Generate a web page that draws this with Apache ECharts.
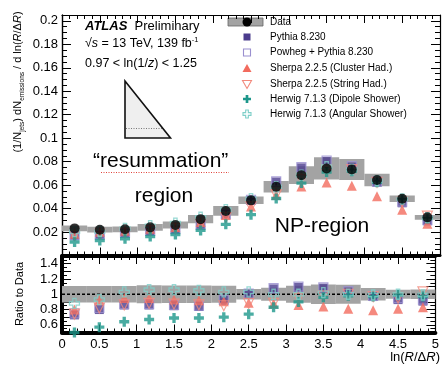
<!DOCTYPE html>
<html>
<head>
<meta charset="utf-8">
<script src="https://cdn.jsdelivr.net/npm/echarts@6.0.0/dist/echarts.min.js"></script>
<style>
html,body{margin:0;padding:0;background:#fff}
#chart{width:442px;height:365px}
</style>
</head>
<body>
<div id="chart"></div>
<script>
var binEdges = [0, 0.3333, 0.6667, 1, 1.3333, 1.6667, 2, 2.3333, 2.6667, 3, 3.3333, 3.6667, 4, 4.3333, 4.6667, 5];

// top panel: (1/Njets) dN/dln(R/dR)
var dataVals = [0.0231, 0.0220, 0.0223, 0.0240, 0.0260, 0.0310, 0.0380, 0.0470, 0.0586, 0.0685, 0.0742, 0.0733, 0.0643, 0.0483, 0.0325];
var dataErr  = [0.0025, 0.0024, 0.0024, 0.0028, 0.0030, 0.0035, 0.0042, 0.0032, 0.0050, 0.0075, 0.0095, 0.0090, 0.0053, 0.0028, 0.0020];
var pythia        = [0.0169, 0.0176, 0.0192, 0.0206, 0.0221, 0.0260, 0.0350, 0.0470, 0.0627, 0.0747, 0.0801, 0.0755, 0.0624, 0.0449, 0.0296];
var powheg        = [0.0173, 0.0180, 0.0194, 0.0209, 0.0224, 0.0264, 0.0353, 0.0475, 0.0633, 0.0754, 0.0809, 0.0762, 0.0630, 0.0459, 0.0302];
var sherpaCluster = [0.0185, 0.0202, 0.0212, 0.0228, 0.0242, 0.0285, 0.0346, 0.0418, 0.0516, 0.0589, 0.0623, 0.0594, 0.0505, 0.0391, 0.0270];
var sherpaString  = [0.0171, 0.0180, 0.0192, 0.0211, 0.0226, 0.0267, 0.0323, 0.0414, 0.0516, 0.0651, 0.0727, 0.0733, 0.0624, 0.0459, 0.0335];
var herwigDipole  = [0.0115, 0.0128, 0.0143, 0.0161, 0.0179, 0.0214, 0.0266, 0.0348, 0.0486, 0.0617, 0.0712, 0.0718, 0.0624, 0.0478, 0.0315];
var herwigAngular = [0.0203, 0.0205, 0.0230, 0.0254, 0.0276, 0.0326, 0.0391, 0.0484, 0.0586, 0.0685, 0.0757, 0.0733, 0.0637, 0.0483, 0.0322];

// bottom panel: ratio to data
var pythiaRatio        = [0.73, 0.80, 0.86, 0.86, 0.85, 0.84, 0.92, 1.00, 1.07, 1.09, 1.08, 1.03, 0.97, 0.93, 0.91];
var powhegRatio        = [0.75, 0.82, 0.87, 0.87, 0.86, 0.85, 0.93, 1.01, 1.08, 1.10, 1.09, 1.04, 0.98, 0.95, 0.93];
var sherpaClusterRatio = [0.80, 0.92, 0.95, 0.95, 0.93, 0.92, 0.91, 0.89, 0.88, 0.86, 0.84, 0.81, 0.79, 0.81, 0.83];
var sherpaStringRatio  = [0.74, 0.82, 0.86, 0.88, 0.87, 0.86, 0.85, 0.88, 0.88, 0.95, 0.98, 1.00, 0.97, 0.95, 1.03];
var herwigDipoleRatio  = [0.50, 0.57, 0.64, 0.67, 0.69, 0.69, 0.70, 0.74, 0.83, 0.90, 0.96, 0.98, 0.97, 0.99, 0.97];
var herwigAngularRatio = [0.88, 0.93, 1.03, 1.06, 1.06, 1.05, 1.03, 1.03, 1.00, 1.00, 1.02, 1.00, 0.99, 1.00, 0.99];

var legendNames = ['Data', 'Pythia 8.230', 'Powheg + Pythia 8.230', 'Sherpa 2.2.5 (Cluster Had.)',
                   'Sherpa 2.2.5 (String Had.)', 'Herwig 7.1.3 (Dipole Shower)', 'Herwig 7.1.3 (Angular Shower)'];

var FONT = 'Liberation Sans, Arial, Helvetica, sans-serif';
var BAND = '#a3a3a3';
var PLUS = 'path://M3,0L6,0L6,3L9,3L9,6L6,6L6,9L3,9L3,6L0,6L0,3L3,3Z';

var styles = {
  pythia:   {symbol: 'rect', size: 9, item: {color: '#4b3c8d'}},
  powheg:   {symbol: 'rect', size: 9, item: {color: 'rgba(0,0,0,0)', borderColor: '#9a8fcf', borderWidth: 1.2}},
  sCluster: {symbol: 'triangle', size: 10, item: {color: '#f26b5e'}},
  sString:  {symbol: 'triangle', size: 10, rotate: 180, item: {color: 'rgba(0,0,0,0)', borderColor: '#f2897c', borderWidth: 1.2}},
  hDipole:  {symbol: PLUS, size: 10, item: {color: '#1d978b'}},
  hAngular: {symbol: PLUS, size: 10, item: {color: 'rgba(0,0,0,0)', borderColor: '#7fcfc9', borderWidth: 1.3}}
};

function center(i) { return (binEdges[i] + binEdges[i + 1]) / 2; }

function pts(vals) {
  return vals.map(function (v, i) { return [center(i), v]; });
}

function scatter(name, vals, axis, st) {
  return {
    name: name, type: 'scatter', xAxisIndex: axis, yAxisIndex: axis,
    data: pts(vals), symbol: st.symbol, symbolSize: st.size, symbolRotate: st.rotate || 0,
    itemStyle: st.item, z: 3, silent: true
  };
}

// band boxes, one per bin
function bandSeries(axis, loFn, hiFn) {
  return {
    type: 'custom', xAxisIndex: axis, yAxisIndex: axis, z: 1, silent: true, clip: true,
    data: pts(dataVals),
    renderItem: function (params, api) {
      var i = params.dataIndex;
      var p0 = api.coord([binEdges[i], hiFn(i)]);
      var p1 = api.coord([binEdges[i + 1], loFn(i)]);
      return {type: 'rect', shape: {x: p0[0], y: p0[1], width: p1[0] - p0[0], height: p1[1] - p0[1]},
              style: {fill: BAND}};
    }
  };
}

function xAx(grid, pos, lineW, labels) {
  return {
    type: 'value', gridIndex: grid, position: pos, min: 0, max: 5, interval: 0.5,
    axisLine: {onZero: false, lineStyle: {color: '#000', width: lineW}},
    axisTick: {inside: true, length: 8, lineStyle: {color: '#000', width: 1}},
    minorTick: {show: true, splitNumber: 5, length: 4, lineStyle: {color: '#000', width: 1}},
    axisLabel: labels ? {show: true, color: '#000', fontFamily: FONT, fontSize: 13, margin: 5,
                         formatter: function (v) { return String(Math.round(v * 10) / 10); }} : {show: false},
    splitLine: {show: false}
  };
}

function yAx(grid, pos, lineW, min, max, interval, minorSplit, labelFn) {
  return {
    type: 'value', gridIndex: grid, position: pos, min: min, max: max, interval: interval,
    axisLine: {show: true, onZero: false, lineStyle: {color: '#000', width: lineW}},
    axisTick: {inside: true, length: 9, lineStyle: {color: '#000', width: 1}},
    minorTick: {show: true, splitNumber: minorSplit, length: 5, lineStyle: {color: '#000', width: 1}},
    axisLabel: labelFn ? {show: true, color: '#000', fontFamily: FONT, fontSize: 13, margin: 4,
                          showMaxLabel: false, formatter: labelFn} : {show: false},
    splitLine: {show: false}
  };
}

var topLabel = function (v) {
  var k = Math.round(v * 100);
  if (k <= 0 || k % 2 !== 0 || Math.abs(v * 100 - k) > 1e-6) return '';
  return String(k / 100);
};
var ratioLabel = function (v) {
  var k = Math.round(v * 10);
  return (k % 2 === 0 && k >= 6 && k <= 14) ? String(k / 10) : '';
};

// legend drawn as graphics
function legendMarker(i, y) {
  var cx = 247;
  if (i === 0) {
    return [{type: 'rect', shape: {x: 228, y: y - 4, width: 35, height: 8}, style: {fill: BAND, stroke: '#666', lineWidth: 0.8}},
            {type: 'circle', shape: {cx: cx, cy: y, r: 4.5}, style: {fill: '#000'}}];
  }
  if (i === 1) return [{type: 'rect', shape: {x: cx - 3.5, y: y - 3.5, width: 7, height: 7}, style: {fill: '#4b3c8d'}}];
  if (i === 2) return [{type: 'rect', shape: {x: cx - 3.5, y: y - 3.5, width: 7, height: 7}, style: {fill: 'none', stroke: '#9a8fcf', lineWidth: 1.1}}];
  if (i === 3) return [{type: 'polygon', shape: {points: [[cx, y - 4.5], [cx + 4.5, y + 3.5], [cx - 4.5, y + 3.5]]}, style: {fill: '#f26b5e'}}];
  if (i === 4) return [{type: 'polygon', shape: {points: [[cx, y + 4.5], [cx + 4.5, y - 3.5], [cx - 4.5, y - 3.5]]}, style: {fill: 'none', stroke: '#f2897c', lineWidth: 1.1}}];
  var s = 8, a = s / 3;
  var plus = [[cx - a / 2, y - s / 2], [cx + a / 2, y - s / 2], [cx + a / 2, y - a / 2], [cx + s / 2, y - a / 2],
              [cx + s / 2, y + a / 2], [cx + a / 2, y + a / 2], [cx + a / 2, y + s / 2], [cx - a / 2, y + s / 2],
              [cx - a / 2, y + a / 2], [cx - s / 2, y + a / 2], [cx - s / 2, y - a / 2], [cx - a / 2, y - a / 2]];
  if (i === 5) return [{type: 'polygon', shape: {points: plus}, style: {fill: '#1d978b'}}];
  return [{type: 'polygon', shape: {points: plus}, style: {fill: 'none', stroke: '#7fcfc9', lineWidth: 1.1}}];
}

var legendRows = [22, 37, 52.5, 68.5, 84, 99, 114];
var graphics = [];
legendNames.forEach(function (n, i) {
  graphics = graphics.concat(legendMarker(i, legendRows[i]));
  graphics.push({type: 'text', x: 270, y: legendRows[i],
                 style: {text: n, fontFamily: FONT, fontSize: 10, fill: '#000', align: 'left', verticalAlign: 'middle'}});
});

var txt = function (x, y, text, size, extra) {
  var st = {text: text, fontFamily: FONT, fontSize: size, fill: '#000', align: 'left', verticalAlign: 'middle'};
  for (var k in extra) st[k] = extra[k];
  return {type: 'text', x: x, y: y, style: st};
};

graphics.push(
  txt(85, 26, '{b|ATLAS}  {n|Preliminary}', 13, {rich: {
    b: {fontFamily: FONT, fontSize: 13, fontWeight: 'bold', fontStyle: 'italic', fill: '#000'},
    n: {fontFamily: FONT, fontSize: 13, fill: '#000'}}}),
  txt(85, 44, '{n|√}{i|s}{n| = 13 TeV, 139 fb}{u|-1}', 12.5, {rich: {
    n: {fontFamily: FONT, fontSize: 12.5, fill: '#000', lineHeight: 16},
    i: {fontFamily: FONT, fontSize: 12.5, fontStyle: 'italic', fill: '#000', lineHeight: 16},
    u: {fontFamily: FONT, fontSize: 7.5, fill: '#000', verticalAlign: 'top'}}}),
  txt(85, 64, '{n|0.97 < ln(1/}{i|z}{n|) < 1.25}', 12.5, {rich: {
    n: {fontFamily: FONT, fontSize: 12.5, fill: '#000'},
    i: {fontFamily: FONT, fontSize: 12.5, fontStyle: 'italic', fill: '#000'}}}),
  txt(93, 161, '\u201cresummation\u201d', 21, {}),
  txt(164, 196, 'region', 21, {align: 'center'}),
  txt(322, 226, 'NP-region', 21, {align: 'center'}),
  {type: 'line', shape: {x1: 101, y1: 172.5, x2: 229, y2: 172.5},
   style: {stroke: '#e0443a', lineWidth: 1, lineDash: [1, 1.5]}},
  // inset triangle
  {type: 'polygon', shape: {points: [[125, 81], [125, 138], [170.5, 138]]},
   style: {fill: '#efefef', stroke: '#111', lineWidth: 1.6}},
  {type: 'line', shape: {x1: 126, y1: 128.5, x2: 162, y2: 128.5},
   style: {stroke: '#777', lineWidth: 1, lineDash: [1, 1.5]}},
  // axis titles
  {type: 'text', x: 18, y: 82, rotation: Math.PI / 2,
   style: {text: '{n|(1/N}{s|jets}{n|) dN}{s|emissions}{n| / d ln(}{i|R}{n|/\u0394}{i|R}{n|)}',
           align: 'center', verticalAlign: 'middle',
           rich: {n: {fontFamily: FONT, fontSize: 11, fill: '#000', lineHeight: 16},
                  i: {fontFamily: FONT, fontSize: 11, fontStyle: 'italic', fill: '#000', lineHeight: 16},
                  s: {fontFamily: FONT, fontSize: 6.5, fill: '#000', verticalAlign: 'bottom'}}}},
  {type: 'text', x: 20, y: 294, rotation: Math.PI / 2,
   style: {text: 'Ratio to Data', fontFamily: FONT, fontSize: 11, fill: '#000', align: 'center', verticalAlign: 'middle'}},
  {type: 'text', x: 440, y: 357,
   style: {text: '{n|ln(}{i|R}{n|/\u0394}{i|R}{n|)}', align: 'right', verticalAlign: 'middle',
           rich: {n: {fontFamily: FONT, fontSize: 13, fill: '#000'},
                  i: {fontFamily: FONT, fontSize: 13, fontStyle: 'italic', fill: '#000'}}}}
);

var series = [
  bandSeries(0, function (i) { return dataVals[i] - dataErr[i]; }, function (i) { return dataVals[i] + dataErr[i]; }),
  scatter(legendNames[1], pythia, 0, styles.pythia),
  scatter(legendNames[2], powheg, 0, styles.powheg),
  scatter(legendNames[3], sherpaCluster, 0, styles.sCluster),
  scatter(legendNames[4], sherpaString, 0, styles.sString),
  scatter(legendNames[5], herwigDipole, 0, styles.hDipole),
  scatter(legendNames[6], herwigAngular, 0, styles.hAngular),
  {name: 'Data', type: 'scatter', xAxisIndex: 0, yAxisIndex: 0, data: pts(dataVals), symbol: 'circle',
   symbolSize: 10, itemStyle: {color: '#000'}, z: 5, silent: true},

  bandSeries(2, function (i) { return 1 - dataErr[i] / dataVals[i]; }, function (i) { return 1 + dataErr[i] / dataVals[i]; }),
  {type: 'line', xAxisIndex: 2, yAxisIndex: 2, data: [[0, 1], [5, 1]], symbol: 'none', z: 2, silent: true,
   lineStyle: {color: '#000', width: 1.5, type: [3, 2]}},
  scatter('r1', pythiaRatio, 2, styles.pythia),
  scatter('r2', powhegRatio, 2, styles.powheg),
  scatter('r3', sherpaClusterRatio, 2, styles.sCluster),
  scatter('r4', sherpaStringRatio, 2, styles.sString),
  scatter('r5', herwigDipoleRatio, 2, styles.hDipole),
  scatter('r6', herwigAngularRatio, 2, styles.hAngular)
];
// mirror axes have no series of their own

var chart = echarts.init(document.getElementById('chart'), null, {renderer: 'canvas'});
chart.setOption({
  animation: false,
  backgroundColor: '#fff',
  grid: [
    {left: 62, right: 2, top: 15, height: 240.5},
    {left: 62, right: 2, top: 256, height: 76.5}
  ],
  xAxis: [
    xAx(0, 'bottom', 3, false),
    xAx(0, 'top', 1.2, false),
    xAx(1, 'bottom', 4, true),
    xAx(1, 'top', 3, false)
  ],
  yAxis: [
    yAx(0, 'left', 1.4, 0, 0.205, 0.02, 4, topLabel),
    yAx(0, 'right', 1.2, 0, 0.205, 0.02, 4, null),
    yAx(1, 'left', 4, 0.5, 1.5, 0.1, 2, ratioLabel),
    yAx(1, 'right', 1.2, 0.5, 1.5, 0.1, 2, null)
  ],
  series: series,
  graphic: graphics
});
</script>
</body>
</html>
